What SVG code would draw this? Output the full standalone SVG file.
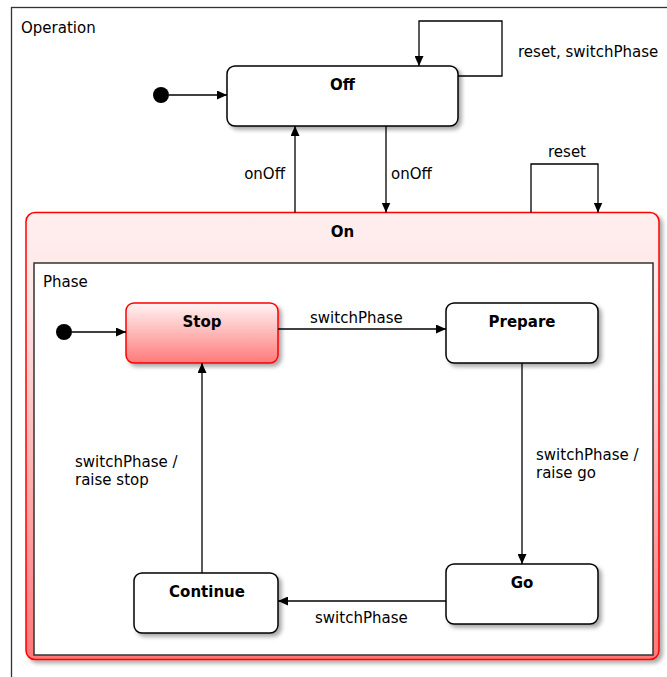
<svg xmlns="http://www.w3.org/2000/svg" width="667" height="677" viewBox="0 0 667 677">
<defs>
<style>
text{font-family:"DejaVu Sans","Liberation Sans",sans-serif;font-size:15px;fill:#000}
.b{font-weight:bold;text-anchor:middle}
.st{fill:#fff;stroke:#000;stroke-width:1.5}
.c{fill:none;stroke:#000;stroke-width:1.3;marker-end:url(#ah)}
.ini{fill:#000}
</style>
<marker id="ah" markerUnits="userSpaceOnUse" markerWidth="10" markerHeight="9" refX="10" refY="4.5" orient="auto">
<path d="M0,0 L10,4.5 L0,9 z" fill="#000"/>
</marker>
<filter id="sh" x="-10%" y="-10%" width="130%" height="130%">
<feDropShadow dx="3" dy="3" stdDeviation="2" flood-color="#000" flood-opacity="0.35"/>
</filter>
<linearGradient id="gStop" x1="0" y1="0" x2="0" y2="1">
<stop offset="0" stop-color="#fff4f4"/>
<stop offset="1" stop-color="#ff7a7a"/>
</linearGradient>
<linearGradient id="gOn" x1="0" y1="0" x2="0" y2="1">
<stop offset="0" stop-color="#ffeeee"/>
<stop offset="0.2" stop-color="#ffe6e6"/>
<stop offset="1" stop-color="#ff7777"/>
</linearGradient>
</defs>
<rect width="667" height="677" fill="#fff"/>
<g id="Operation">
<rect x="11.5" y="7.5" width="700" height="700" fill="#fff" stroke="#333" stroke-width="1.3"/>
<text x="21" y="33">Operation</text>
</g>
<g id="init1"><circle class="ini" cx="161" cy="95" r="8"/></g>
<g id="Off">
<rect class="st" x="227" y="66" width="231" height="60" rx="8" filter="url(#sh)"/>
<text class="b" x="342.5" y="90">Off</text>
</g>
<g id="On">
<rect x="26" y="212.5" width="633" height="447" rx="9" fill="url(#gOn)" stroke="#ff0000" stroke-width="1.5" filter="url(#sh)"/>
<text class="b" x="342.5" y="237">On</text>
</g>
<g id="Phase">
<rect x="34" y="263" width="619" height="392" fill="#fff" stroke="#333" stroke-width="1.5"/>
<text x="43" y="287">Phase</text>
</g>
<g id="init2"><circle class="ini" cx="64" cy="332" r="8"/></g>
<g id="Stop">
<rect x="126" y="303" width="152" height="60" rx="8" fill="url(#gStop)" stroke="#ff0000" stroke-width="1.5" filter="url(#sh)"/>
<text class="b" x="202" y="327">Stop</text>
</g>
<g id="Prepare">
<rect class="st" x="446" y="303" width="152" height="60" rx="8" filter="url(#sh)"/>
<text class="b" x="522" y="327">Prepare</text>
</g>
<g id="Go">
<rect class="st" x="446" y="564" width="152" height="60" rx="8" filter="url(#sh)"/>
<text class="b" x="522" y="588">Go</text>
</g>
<g id="Continue">
<rect class="st" x="134" y="573" width="144" height="60" rx="8" filter="url(#sh)"/>
<text class="b" x="207" y="597">Continue</text>
</g>
<g id="connectors">
<path class="c" d="M169,95 L227,95"/>
<path class="c" d="M458,76 L502,76 L502,21 L419,21 L419,66"/>
<path class="c" d="M295,212.5 L295,126"/>
<path class="c" d="M386,126 L386,212.5"/>
<path class="c" d="M531,212.5 L531,164 L598,164 L598,212.5"/>
<path class="c" d="M72,332 L126,332"/>
<path class="c" d="M278,329 L446,329"/>
<path class="c" d="M522,363 L522,564"/>
<path class="c" d="M446,601 L278,601"/>
<path class="c" d="M202,573 L202,363"/>
<text x="518" y="57">reset, switchPhase</text>
<text x="285" y="179" text-anchor="end">onOff</text>
<text x="391" y="179">onOff</text>
<text x="567" y="157" text-anchor="middle">reset</text>
<text x="310" y="323">switchPhase</text>
<text x="536" y="460">switchPhase /</text>
<text x="536" y="478">raise go</text>
<text x="315" y="623">switchPhase</text>
<text x="75" y="467">switchPhase /</text>
<text x="75" y="485">raise stop</text>
</g>
</svg>
